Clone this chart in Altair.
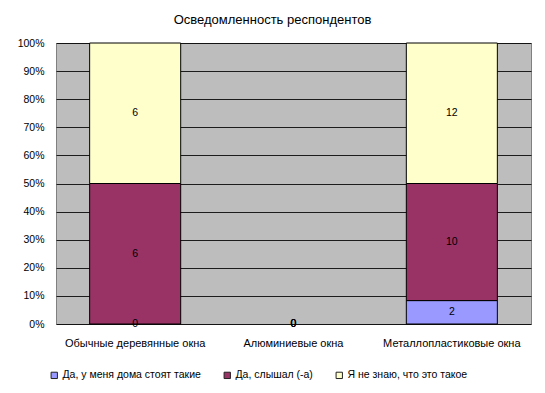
import altair as alt
import pandas as pd

categories = ["Обычные деревянные окна", "Алюминиевые окна", "Металлопластиковые окна"]
series = ["Да, у меня дома стоят такие", "Да, слышал (-а)", "Я не знаю, что это такое"]
colors = ["#9999ff", "#993366", "#ffffcc"]
v_have = [0, 0, 2]
v_heard = [6, 0, 10]
v_dontknow = [6, 0, 12]
y_ticks = [0, 0.1, 0.2, 0.3, 0.4, 0.5, 0.6, 0.7, 0.8, 0.9, 1.0]

values = [v_have, v_heard, v_dontknow]
rows = []
for ci, cat in enumerate(categories):
    total = sum(v[ci] for v in values)
    acc = 0.0
    for si, s in enumerate(series):
        val = values[si][ci]
        frac = val / total if total else 0.0
        y0 = acc
        y1 = acc + frac
        acc = y1
        rows.append({"cat": cat, "series": s, "order": si, "value": val,
                     "y0": y0, "y1": y1, "mid": (y0 + y1) / 2})
df = pd.DataFrame(rows)

font = "Liberation Sans"
base = alt.Chart(df)

xscale = alt.Scale(paddingInner=0.425, paddingOuter=0.2125)
xaxis = alt.Axis(labelAngle=0, labelFont=font, labelFontSize=11, labelColor="black",
                 ticks=False, domain=False, labelPadding=13)
yscale = alt.Scale(domain=[0, 1], nice=False)
yaxis = alt.Axis(format=".0%", values=y_ticks, labelOverlap=False,
                 labelFont=font, labelFontSize=10.5, labelColor="black",
                 ticks=False, domain=False, labelPadding=12,
                 grid=True, gridColor="#000000", gridWidth=1, gridOpacity=0.85)

bars = base.mark_bar(stroke="black", strokeWidth=1).encode(
    x=alt.X("cat:N", sort=categories, title=None, scale=xscale, axis=xaxis),
    y=alt.Y("y0:Q", title=None, scale=yscale, axis=yaxis),
    y2="y1:Q",
    color=alt.Color("series:N", sort=series,
                    scale=alt.Scale(domain=series, range=colors),
                    legend=alt.Legend(title=None, orient="none", direction="horizontal",
                                      legendX=-7, legendY=327,
                                      symbolType="square", symbolSize=40,
                                      symbolStrokeColor="#222222", symbolStrokeWidth=1,
                                      labelFont=font, labelFontSize=10.5, labelColor="black",
                                      labelOffset=3, columnPadding=21)),
).transform_filter(alt.datum.value > 0)

labels = base.mark_text(font=font, fontSize=10.5, color="black", baseline="middle").encode(
    x=alt.X("cat:N", sort=categories, title=None, scale=xscale, axis=xaxis),
    y=alt.Y("mid:Q", title=None, scale=yscale, axis=yaxis),
    text=alt.Text("value:Q"),
)

chart = (bars + labels).properties(
    width=475, height=281,
    autosize=alt.AutoSizeParams(type="none"),
    padding={"left": 48, "top": 35, "right": 6, "bottom": 61},
    title=alt.TitleParams("Осведомленность респондентов", font=font, fontSize=13,
                          fontWeight="normal", color="black", anchor="middle",
                          dx=-21, offset=11),
    background="white",
).configure_view(fill="#bdbdbd", stroke="#808080", strokeWidth=1)

chart.save("out.html", embed_options={"renderer": "svg", "actions": False})
